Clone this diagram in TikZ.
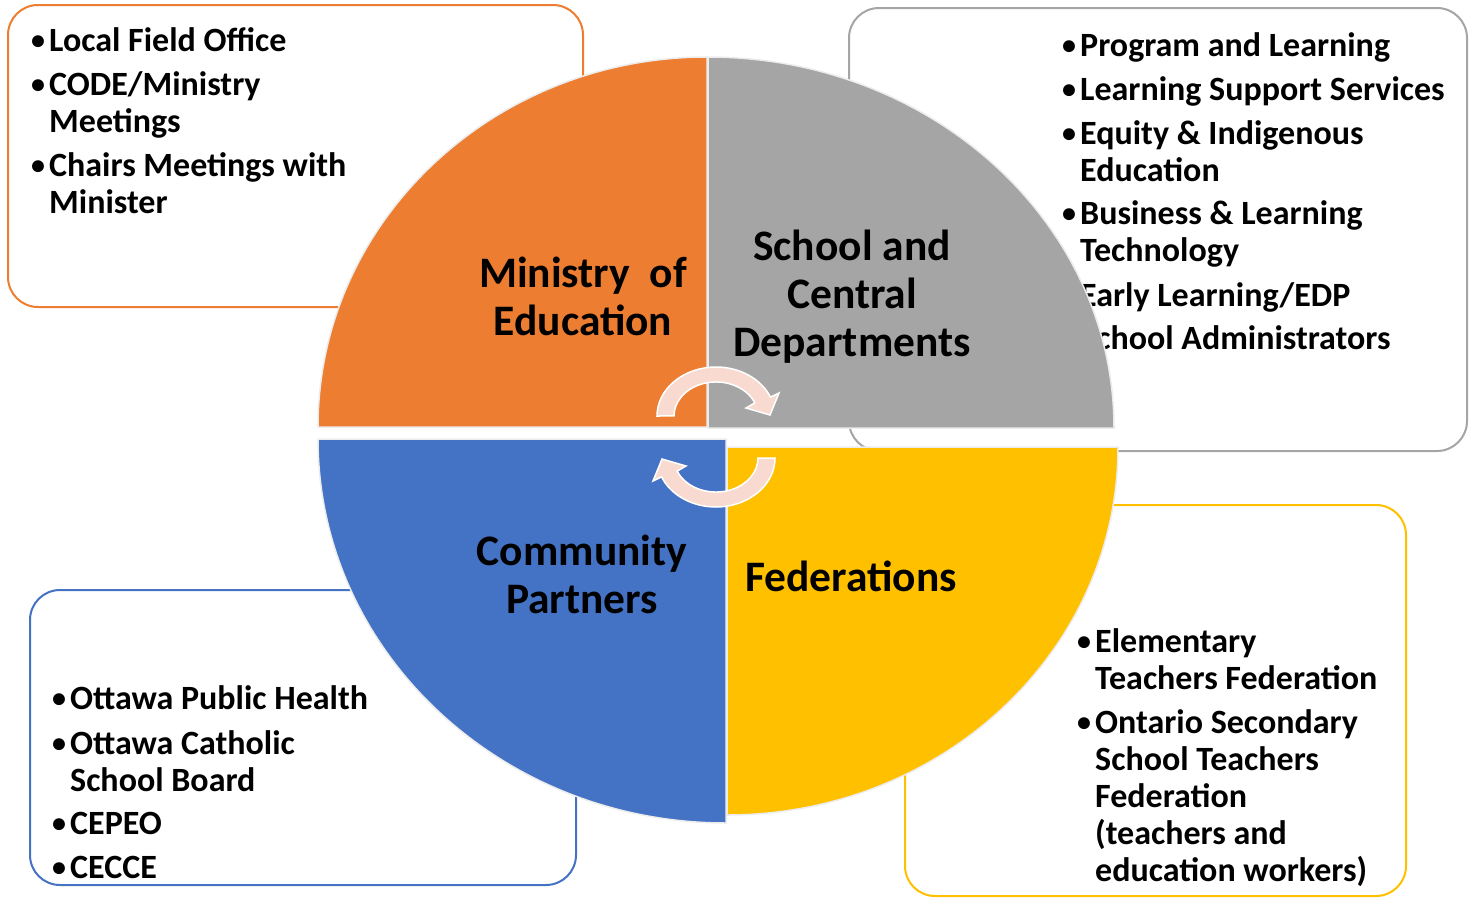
\documentclass[tikz,border=0pt]{standalone}
\usepackage{fontspec}
\setmainfont{Carlito}

\definecolor{orangeq}{HTML}{ED7D31}
\definecolor{grisq}{HTML}{A5A5A5}
\definecolor{bleuq}{HTML}{4472C4}
\definecolor{jauneq}{HTML}{FFC000}
\definecolor{rosef}{HTML}{F8DAD0}

\newcommand{\puce}{\makebox[19pt][l]{\hspace{1pt}\raisebox{1.5pt}{\fontsize{28}{28}\selectfont\textbullet}}}
\newcommand{\suite}{\hspace*{19pt}}

\begin{document}
\begin{tikzpicture}[x=1pt, y=-1pt]
	\tikzset{cadre/.style={draw=#1, line width=2pt, rounded corners=30pt, fill=white},
		liste/.style={anchor=north west, inner sep=0pt, align=left, font=\bfseries\fontsize{34}{37}\selectfont},
		titre/.style={align=center, inner sep=0pt, font=\bfseries\fontsize{43.5}{48}\selectfont},
		quart/.style={fill=#1, draw=gray!15, line width=1.5pt},
		fleche/.style={fill=rosef, draw=white, line width=1.5pt}};

	\useasboundingbox (0,0) rectangle (1470,897);

	\draw[cadre=orangeq] (   8,   5) rectangle ( 583, 307);
	\draw[cadre=grisq]   ( 849,   8) rectangle (1467, 451);
	\draw[cadre=bleuq]   (  30, 590) rectangle ( 576, 885);
	\draw[cadre=jauneq]  ( 905, 505) rectangle (1406, 896);

	\node[liste] (l1) at (  30,  25) {\strut\puce Local Field Office\\[7pt]
		\puce CODE/Ministry\\ \suite Meetings\\[7pt]
		\puce Chairs Meetings with\\ \suite Minister};
	\node[liste] (l2) at (1061,  30) {\strut\puce Program and Learning\\[7pt]
		\puce Learning Support Services\\[7pt]
		\puce Equity \& Indigenous\\ \suite Education\\[6pt]
		\puce Business \& Learning\\ \suite Technology\\[8pt]
		\puce Early Learning/EDP\\[6pt]
		\puce School Administrators};
	\node[liste] (l3) at (  51, 683) {\strut\puce Ottawa Public Health\\[8pt]
		\puce Ottawa Catholic\\ \suite School Board\\[6pt]
		\puce CEPEO\\[7pt]
		\puce CECCE};
	\node[liste] (l4) at (1076, 626) {\strut\puce Elementary\\ \suite Teachers Federation\\[7pt]
		\puce Ontario Secondary\\ \suite School Teachers\\ \suite Federation\\
		\suite (teachers and\\ \suite education workers)};

	\draw[quart=orangeq] (707,427) -- (318,427) arc[start angle=180, end angle=270, x radius=389, y radius=370] -- cycle;
	\draw[quart=grisq]   (708,428) -- (708, 57) arc[start angle=270, end angle=360, x radius=406, y radius=371] -- cycle;
	\draw[quart=bleuq]   (726,439) -- (318,439) arc[start angle=180, end angle=90,  x radius=408, y radius=384] -- cycle;
	\draw[quart=jauneq]  (727,447) -- (1118,447) arc[start angle=0,  end angle=90,  x radius=391, y radius=368] -- cycle;

	\node[titre] (ministere)   at (583, 296) {Ministry~~of\\Education};
	\node[titre] (ecoles)      at (852, 297) {School and\\Central\\Departments};
	\node[titre] (communaute)  at (582, 574) {Community\\Partners};
	\node[titre] (federations) at (851, 576) {Federations};

	\draw[fleche] (657,416) arc[start angle=180, end angle=337.4, x radius=59, y radius=49]
		-- (779,393) -- (770,415) -- (746,408) -- (754.8,402.9)
		arc[start angle=337.4, end angle=180, x radius=42, y radius=34] -- cycle;
	\draw[fleche, rotate around={180:(716,437)}] (657,416) arc[start angle=180, end angle=337.4, x radius=59, y radius=49]
		-- (779,393) -- (770,415) -- (746,408) -- (754.8,402.9)
		arc[start angle=337.4, end angle=180, x radius=42, y radius=34] -- cycle;

\end{tikzpicture}
\end{document}
